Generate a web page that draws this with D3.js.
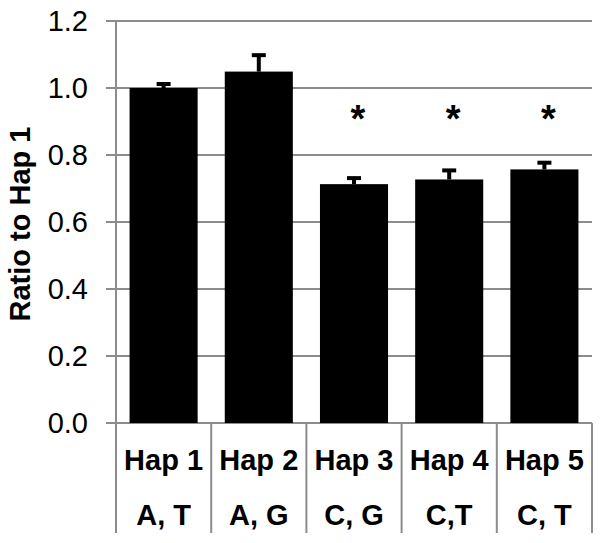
<!DOCTYPE html>
<html><head><meta charset="utf-8">
<script src="https://cdn.jsdelivr.net/npm/d3@7"></script>
<style>html,body{margin:0;padding:0;background:#fff;}svg{display:block;}</style>
</head><body>
<script>
const categories = ["Hap 1","Hap 2","Hap 3","Hap 4","Hap 5"];
const alleles = ["A, T","A, G","C, G","C,T","C, T"];
const values = [1.0, 1.049, 0.713, 0.727, 0.757];
const errors = [0.012, 0.049, 0.018, 0.027, 0.02];
const significant = [false, false, true, true, true];
const yTicks = [0, 0.2, 0.4, 0.6, 0.8, 1.0, 1.2];
const yLabel = "Ratio to Hap 1";

const W = 602, H = 543;
const mLeft = 116, mRight = 592, mTop = 21, mBottom = 423;
const svg = d3.select("body").append("svg").attr("width", W).attr("height", H);
const font = "Liberation Sans, Arial, sans-serif";
const grey = "#8c8c8c";

const x = d3.scaleBand().domain(categories).range([mLeft, mRight]).paddingInner(0.285).paddingOuter(0.1425);
const y = d3.scaleLinear().domain([0, 1.2]).range([mBottom, mTop]);

// gridlines + ticks
svg.append("g").selectAll("line").data(yTicks).join("line")
  .attr("x1", mLeft - 10).attr("x2", mRight)
  .attr("y1", d => y(d)).attr("y2", d => y(d))
  .attr("stroke", grey).attr("stroke-width", 2);

// y axis line
svg.append("line").attr("x1", mLeft).attr("x2", mLeft).attr("y1", mTop).attr("y2", mBottom)
  .attr("stroke", grey).attr("stroke-width", 2);

// tick labels
svg.append("g").selectAll("text").data(yTicks).join("text")
  .attr("x", 88).attr("y", d => y(d) + 10)
  .attr("text-anchor", "end").attr("font-family", font).attr("font-size", 29)
  .attr("fill", "#000").text(d => d.toFixed(1));

// y label
svg.append("text").attr("transform", `translate(30,${(125+323)/2}) rotate(-90)`)
  .attr("text-anchor", "middle").attr("font-family", font).attr("font-size", 29)
  .attr("font-weight", "bold").text(yLabel);

// error bars
const eb = svg.append("g");
categories.forEach((c, i) => {
  const cx = x(c) + x.bandwidth() / 2;
  eb.append("line").attr("x1", cx).attr("x2", cx).attr("y1", y(values[i])).attr("y2", y(values[i] + errors[i]))
    .attr("stroke", "#000").attr("stroke-width", 4);
  eb.append("line").attr("x1", cx - 7).attr("x2", cx + 7).attr("y1", y(values[i] + errors[i])).attr("y2", y(values[i] + errors[i]))
    .attr("stroke", "#000").attr("stroke-width", 4);
});

// bars
svg.append("g").selectAll("rect").data(values).join("rect")
  .attr("x", (d, i) => x(categories[i])).attr("width", x.bandwidth())
  .attr("y", d => y(d)).attr("height", d => y(0) - y(d)).attr("fill", "#000");

// asterisks
svg.append("g").selectAll("text").data(categories.filter((c, i) => significant[i])).join("text")
  .attr("x", c => x(c) + x.bandwidth() / 2 + 4).attr("y", 132)
  .attr("text-anchor", "middle").attr("font-family", font).attr("font-size", 38)
  .attr("font-weight", "bold").text("*");

// category dividers
const bounds = categories.map(c => x(c) - x.step() * x.paddingInner() / 2);
bounds.push(mRight);
bounds[0] = mLeft;
svg.append("g").selectAll("line").data(bounds).join("line")
  .attr("x1", d => d).attr("x2", d => d).attr("y1", mBottom).attr("y2", 533)
  .attr("stroke", grey).attr("stroke-width", 2);

// category labels
const cl = svg.append("g");
categories.forEach((c, i) => {
  const cx = x(c) + x.bandwidth() / 2;
  cl.append("text").attr("x", cx).attr("y", 470).attr("text-anchor", "middle")
    .attr("font-family", font).attr("font-size", 29).attr("font-weight", "bold").text(c);
  cl.append("text").attr("x", cx).attr("y", 525).attr("text-anchor", "middle")
    .attr("font-family", font).attr("font-size", 29).attr("font-weight", "bold").text(alleles[i]);
});
</script>
</body></html>
